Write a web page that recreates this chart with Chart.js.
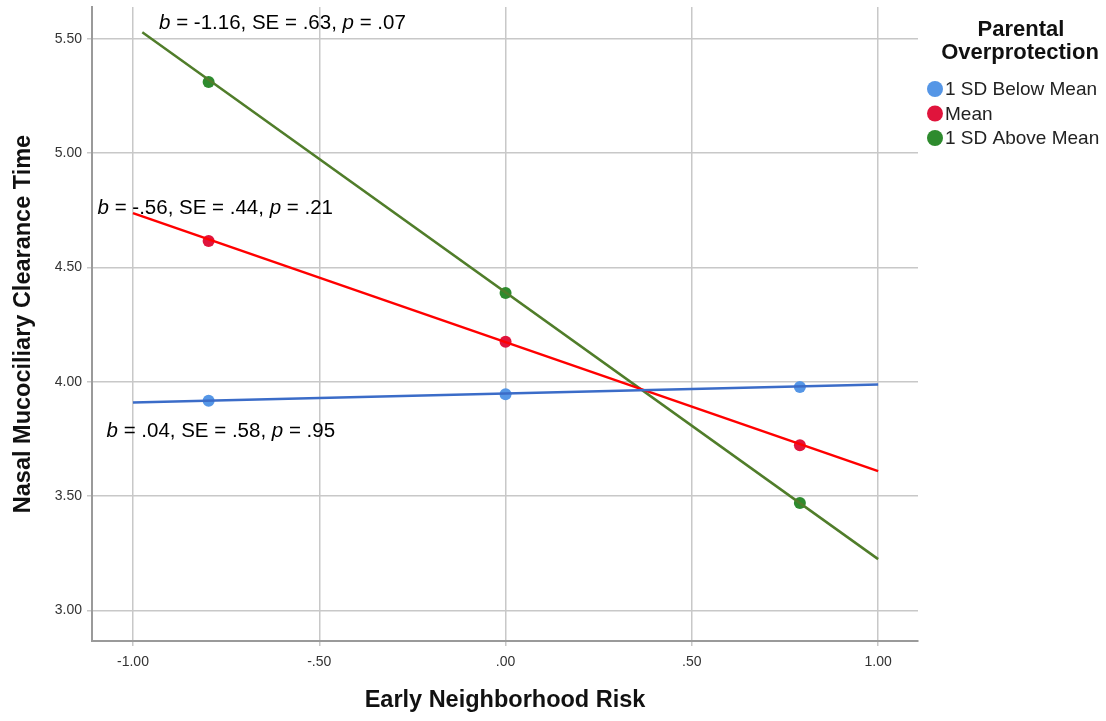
<!DOCTYPE html>
<html>
<head>
<meta charset="utf-8">
<script src="https://cdn.jsdelivr.net/npm/chart.js@4.4.0/dist/chart.umd.min.js"></script>
<style>
  body { margin: 0; background: #fff; }
  #wrap { width: 1106px; height: 721px; position: relative; }
</style>
</head>
<body>
<div id="wrap"><canvas id="chart"></canvas></div>
<script>
// values
const pointX = [-0.797, 0, 0.79];
const belowMean = [3.917, 3.946, 3.978];
const atMean = [4.616, 4.175, 3.723];
const aboveMean = [5.311, 4.389, 3.470];

const lineXBelow = [-1, 1];
const lineBelow = [3.910, 3.988];
const lineXMean = [-1, 1];
const lineMean = [4.738, 3.610];
const lineXAbove = [-0.975, 1];
const lineAbove = [5.529, 3.225];

const xTicks = [-1, -0.5, 0, 0.5, 1];
const yTicks = [3, 3.5, 4, 4.5, 5, 5.5];

const seriesNames = ['1 SD Below Mean', 'Mean', '1 SD Above Mean'];
const pointColors = ['#5596e6', '#e0143c', '#2e8b2e'];
const lineColors = ['#3b6cc8', '#ff0000', '#507d2a'];

// stats labels, [x, y] in data units
const notes = [
  { x: -0.93, y: 5.566, parts: [['b', true], [' = -1.16, SE = .63, ', false], ['p', true], [' = .07', false]] },
  { x: -1.095, y: 4.758, parts: [['b', true], [' = -.56, SE = .44, ', false], ['p', true], [' = .21', false]] },
  { x: -1.071, y: 3.783, parts: [['b', true], [' = .04, SE = .58, ', false], ['p', true], [' = .95', false]] }
];

function spss(v) {
  let s = Math.abs(v).toFixed(2);
  if (Math.abs(v) < 1) s = s.substring(1);
  return (v < 0 ? '-' : '') + s;
}
function pairs(xs, ys) {
  return xs.map((x, i) => ({ x: x, y: ys[i] }));
}

const fitData = [pairs(lineXBelow, lineBelow), pairs(lineXMean, lineMean), pairs(lineXAbove, lineAbove)];
const ptData = [pairs(pointX, belowMean), pairs(pointX, atMean), pairs(pointX, aboveMean)];

const datasets = [];
for (let i = 0; i < 3; i++) {
  datasets.push({
    label: seriesNames[i] + ' fit',
    data: fitData[i],
    showLine: true,
    borderColor: lineColors[i],
    borderWidth: 2.5,
    pointRadius: 0
  });
}
for (let i = 0; i < 3; i++) {
  datasets.push({
    label: seriesNames[i],
    data: ptData[i],
    showLine: false,
    backgroundColor: pointColors[i],
    borderColor: pointColors[i],
    pointRadius: 6,
    pointBorderWidth: 0
  });
}

const extras = {
  id: 'extras',
  afterDraw(chart) {
    const ctx = chart.ctx;
    const xs = chart.scales.x, ys = chart.scales.y;
    ctx.save();
    // stats labels
    ctx.fillStyle = '#000';
    ctx.textBaseline = 'middle';
    ctx.textAlign = 'left';
    notes.forEach(n => {
      let px = xs.getPixelForValue(n.x);
      const py = ys.getPixelForValue(n.y);
      n.parts.forEach(p => {
        ctx.font = (p[1] ? 'italic ' : '') + '20.5px "Liberation Sans", Arial, sans-serif';
        ctx.fillText(p[0], px, py);
        px += ctx.measureText(p[0]).width;
      });
    });
    // legend
    ctx.fillStyle = '#111';
    ctx.textAlign = 'center';
    ctx.font = 'bold 22px "Liberation Sans", Arial, sans-serif';
    ctx.fillText('Parental', 1021, 30);
    ctx.fillText('Overprotection', 1020, 53);
    ctx.textAlign = 'left';
    ctx.font = '19px "Liberation Sans", Arial, sans-serif';
    seriesNames.forEach((name, i) => {
      const y = 89 + i * 24.5;
      ctx.beginPath();
      ctx.arc(935, y, 8, 0, Math.PI * 2);
      ctx.fillStyle = pointColors[i];
      ctx.fill();
      ctx.fillStyle = '#222';
      ctx.fillText(name, 945, y + 1);
    });
    ctx.restore();
  }
};

new Chart(document.getElementById('chart'), {
  type: 'scatter',
  data: { datasets: datasets },
  options: {
    responsive: true,
    maintainAspectRatio: false,
    animation: false,
    layout: { padding: { top: 7, right: 188, left: 0, bottom: 0 } },
    plugins: { legend: { display: false }, tooltip: { enabled: false } },
    scales: {
      x: {
        type: 'linear',
        min: -1.110,
        max: 1.107,
        afterBuildTicks: s => { s.ticks = xTicks.map(v => ({ value: v })); },
        afterFit: s => { s.height = 80; },
        grid: { color: '#c8c8c8', lineWidth: 1.5, tickLength: 5 },
        border: { color: '#9a9a9a', width: 2 },
        ticks: {
          callback: v => spss(v),
          color: '#333',
          padding: 8,
          maxRotation: 0,
          font: { family: '"Liberation Sans", Arial, sans-serif', size: 14 }
        },
        title: {
          display: true,
          text: 'Early Neighborhood Risk',
          color: '#111',
          padding: { top: 0, bottom: 6 },
          font: { family: '"Liberation Sans", Arial, sans-serif', size: 23.5, weight: 'bold' }
        }
      },
      y: {
        type: 'linear',
        min: 2.867,
        max: 5.639,
        afterBuildTicks: s => { s.ticks = yTicks.map(v => ({ value: v })); },
        afterFit: s => { s.width = 92; s.paddingTop = 0; s.paddingBottom = 0; },
        grid: { color: '#c8c8c8', lineWidth: 1.5, tickLength: 5 },
        border: { color: '#9a9a9a', width: 2 },
        ticks: {
          callback: v => spss(v),
          color: '#333',
          padding: 5,
          font: { family: '"Liberation Sans", Arial, sans-serif', size: 14 }
        },
        title: {
          display: true,
          text: 'Nasal Mucociliary Clearance Time',
          color: '#111',
          padding: { top: 9, bottom: 0 },
          font: { family: '"Liberation Sans", Arial, sans-serif', size: 23.5, weight: 'bold' }
        }
      }
    }
  },
  plugins: [extras]
});
</script>
</body>
</html>
